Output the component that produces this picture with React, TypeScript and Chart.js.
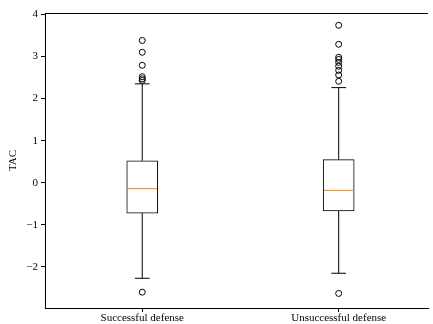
import React, { useEffect, useRef } from 'react';
import { Chart, registerables } from 'chart.js';

Chart.register(...registerables);

const categories = ['Successful defense', 'Unsuccessful defense'];
const positions = [1, 2];
const q1 = [-0.72, -0.67];
const q3 = [0.52, 0.55];
const medians = [-0.14, -0.18];
const whiskerLo = [-2.27, -2.15];
const whiskerHi = [2.35, 2.26];
const outliersA = [3.38, 3.1, 2.79, 2.52, 2.47, 2.43, -2.6];
const outliersB = [3.74, 3.29, 2.98, 2.93, 2.86, 2.77, 2.67, 2.56, 2.41, -2.63];
const yTicks = [-2, -1, 0, 1, 2, 3, 4];

const BOX_HALF = 0.075;
const CAP_HALF = 0.0375;
const FONT = '"Liberation Serif", "DejaVu Serif", serif';

export default function App() {
  const ref = useRef<HTMLCanvasElement | null>(null);
  useEffect(() => {
    if (!ref.current) return;
    const whiskerPts: any[] = [];
    const capPts: any[] = [];
    const medPts: any[] = [];
    positions.forEach((p, i) => {
      whiskerPts.push({ x: p, y: q3[i] }, { x: p, y: whiskerHi[i] }, { x: p, y: null });
      whiskerPts.push({ x: p, y: q1[i] }, { x: p, y: whiskerLo[i] }, { x: p, y: null });
      capPts.push({ x: p - CAP_HALF, y: whiskerHi[i] }, { x: p + CAP_HALF, y: whiskerHi[i] }, { x: p, y: null });
      capPts.push({ x: p - CAP_HALF, y: whiskerLo[i] }, { x: p + CAP_HALF, y: whiskerLo[i] }, { x: p, y: null });
      medPts.push({ x: p - BOX_HALF, y: medians[i] }, { x: p + BOX_HALF, y: medians[i] }, { x: p, y: null });
    });
    const outPts = [
      ...outliersA.map((v) => ({ x: positions[0], y: v })),
      ...outliersB.map((v) => ({ x: positions[1], y: v })),
    ];
    const topSpine = {
      id: 'topSpine',
      afterDraw(chart: any) {
        const { ctx, chartArea } = chart;
        ctx.save();
        ctx.strokeStyle = '#000';
        ctx.lineWidth = 1;
        ctx.beginPath();
        ctx.moveTo(chartArea.left, Math.round(chartArea.top) + 0.5);
        ctx.lineTo(chartArea.right, Math.round(chartArea.top) + 0.5);
        ctx.stroke();
        ctx.restore();
      },
    };
    const lineCommon = {
      type: 'line' as const,
      borderWidth: 1,
      pointRadius: 0,
      spanGaps: false,
      borderDash: [2000, 0],
    };
    const chart = new Chart(ref.current, {
      type: 'bar',
      data: {
        datasets: [
          {
            type: 'bar',
            data: positions.map((p, i) => ({ x: p, y: [q1[i], q3[i]] })) as any,
            backgroundColor: '#fff',
            borderColor: '#000',
            borderWidth: 1,
            borderSkipped: false,
            barThickness: 31,
            order: 4,
          } as any,
          { ...lineCommon, data: whiskerPts, borderColor: '#000', order: 3 } as any,
          { ...lineCommon, data: capPts, borderColor: '#000', order: 2 } as any,
          { ...lineCommon, data: medPts, borderColor: '#ff7f0e', order: 1 } as any,
          {
            type: 'line',
            data: outPts,
            showLine: false,
            pointRadius: 3,
            pointBorderColor: '#000',
            pointBackgroundColor: 'rgba(255,255,255,0)',
            pointBorderWidth: 1,
            order: 0,
          },
        ],
      },
      options: {
        animation: false,
        responsive: false,
        layout: { padding: { top: 13, right: 0, left: 0, bottom: 0 } },
        plugins: { legend: { display: false }, tooltip: { enabled: false } },
        scales: {
          x: {
            type: 'linear',
            min: 0.505,
            max: 2.4547,
            offset: false,
            afterBuildTicks: (s: any) => {
              s.ticks = positions.map((v) => ({ value: v }));
            },
            afterFit: (s: any) => {
              s.height = 16;
            },
            ticks: {
              color: '#000',
              font: { family: FONT, size: 11 },
              padding: 0,
              maxRotation: 0,
              autoSkip: false,
              callback: (v: any) => {
                const i = positions.indexOf(Number(v));
                return i >= 0 ? categories[i] : '';
              },
            },
            grid: { drawOnChartArea: false, offset: false, tickLength: 4, color: '#000' },
            border: { color: '#000', width: 1 },
          },
          y: {
            type: 'linear',
            min: -2.976,
            max: 4.033,
            afterBuildTicks: (s: any) => {
              s.ticks = yTicks.map((v) => ({ value: v }));
            },
            afterFit: (s: any) => {
              s.width = 45;
            },
            ticks: {
              color: '#000',
              font: { family: FONT, size: 11 },
              padding: 3,
              callback: (v: any) => (Number(v) < 0 ? '\u2212' + Math.abs(Number(v)) : String(v)),
            },
            grid: { drawOnChartArea: false, tickLength: 4, color: '#000' },
            border: { color: '#000', width: 1 },
            title: {
              display: true,
              text: 'TAC',
              color: '#000',
              font: { family: FONT, size: 11 },
              padding: { top: 7, bottom: 0 },
            },
          },
        },
      },
      plugins: [topSpine],
    });
    return () => chart.destroy();
  }, []);
  return (
    <div style={{ position: 'fixed', left: 0, top: 0, width: 433, height: 324, background: '#fff' }}>
      <canvas ref={ref} width={433} height={324} />
    </div>
  );
}
